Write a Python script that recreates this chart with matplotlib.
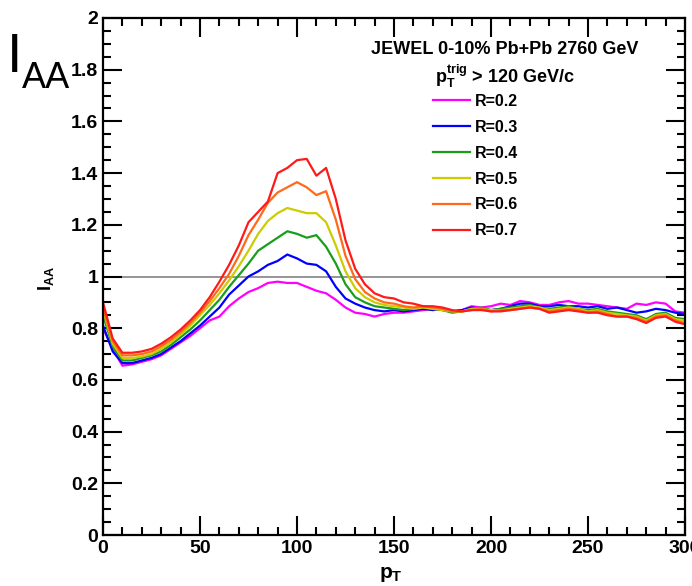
#!/usr/bin/python3

import matplotlib
matplotlib.use("Agg")
import matplotlib.pyplot as plt
from matplotlib.ticker import MultipleLocator

# pT grid, 5 GeV steps
pt = list(range(0, 301, 5))

iaa_r02 = [0.80, 0.72, 0.655, 0.66, 0.67, 0.68, 0.695, 0.72, 0.745, 0.77,
           0.80, 0.83, 0.845, 0.885, 0.915, 0.94, 0.955, 0.975, 0.98, 0.975,
           0.975, 0.96, 0.945, 0.935, 0.91, 0.88, 0.86, 0.855, 0.845, 0.855,
           0.86, 0.86, 0.865, 0.87, 0.875, 0.87, 0.865, 0.87, 0.885, 0.88,
           0.885, 0.895, 0.89, 0.905, 0.90, 0.89, 0.89, 0.90, 0.905, 0.895,
           0.895, 0.89, 0.885, 0.88, 0.875, 0.895, 0.89, 0.90, 0.895, 0.865,
           0.86]

iaa_r03 = [0.81, 0.71, 0.665, 0.665, 0.675, 0.685, 0.70, 0.725, 0.75, 0.78,
           0.81, 0.845, 0.88, 0.93, 0.965, 1.0, 1.02, 1.045, 1.06, 1.085,
           1.07, 1.05, 1.045, 1.02, 0.96, 0.915, 0.895, 0.88, 0.87, 0.865,
           0.87, 0.865, 0.87, 0.875, 0.87, 0.875, 0.865, 0.87, 0.88, 0.875,
           0.87, 0.875, 0.885, 0.895, 0.895, 0.885, 0.885, 0.89, 0.885, 0.885,
           0.88, 0.885, 0.875, 0.88, 0.87, 0.86, 0.865, 0.875, 0.87, 0.86,
           0.855]

iaa_r04 = [0.85, 0.73, 0.675, 0.675, 0.685, 0.695, 0.71, 0.735, 0.765, 0.795,
           0.83, 0.87, 0.91, 0.96, 1.005, 1.05, 1.10, 1.125, 1.15, 1.175,
           1.165, 1.15, 1.16, 1.115, 1.05, 0.97, 0.92, 0.90, 0.885, 0.88,
           0.875, 0.87, 0.875, 0.88, 0.875, 0.87, 0.86, 0.865, 0.875, 0.88,
           0.87, 0.875, 0.88, 0.885, 0.89, 0.88, 0.875, 0.88, 0.885, 0.875,
           0.87, 0.875, 0.865, 0.86, 0.855, 0.85, 0.835, 0.855, 0.86, 0.84,
           0.835]

iaa_r05 = [0.87, 0.74, 0.685, 0.685, 0.69, 0.70, 0.72, 0.745, 0.775, 0.81,
           0.85, 0.89, 0.935, 0.985, 1.04, 1.10, 1.165, 1.215, 1.245, 1.265,
           1.255, 1.245, 1.245, 1.21, 1.12, 1.02, 0.955, 0.92, 0.90, 0.89,
           0.885, 0.88, 0.875, 0.88, 0.875, 0.87, 0.865, 0.865, 0.875, 0.875,
           0.87, 0.87, 0.875, 0.88, 0.885, 0.88, 0.87, 0.875, 0.88, 0.875,
           0.865, 0.87, 0.86, 0.855, 0.85, 0.845, 0.83, 0.85, 0.855, 0.835,
           0.83]

iaa_r06 = [0.88, 0.75, 0.695, 0.695, 0.70, 0.71, 0.73, 0.755, 0.785, 0.82,
           0.86, 0.905, 0.955, 1.01, 1.08, 1.16, 1.22, 1.285, 1.325, 1.345,
           1.365, 1.345, 1.315, 1.33, 1.22, 1.08, 0.99, 0.94, 0.915, 0.90,
           0.895, 0.885, 0.88, 0.885, 0.88, 0.875, 0.865, 0.865, 0.87, 0.875,
           0.865, 0.87, 0.87, 0.875, 0.88, 0.875, 0.865, 0.87, 0.875, 0.87,
           0.86, 0.865, 0.855, 0.845, 0.845, 0.84, 0.825, 0.845, 0.85, 0.83,
           0.82]

iaa_r07 = [0.90, 0.76, 0.705, 0.705, 0.71, 0.72, 0.74, 0.765, 0.795, 0.83,
           0.87, 0.92, 0.98, 1.045, 1.12, 1.21, 1.25, 1.29, 1.40, 1.42,
           1.45, 1.455, 1.39, 1.42, 1.30, 1.14, 1.03, 0.97, 0.935, 0.92,
           0.915, 0.90, 0.895, 0.885, 0.885, 0.88, 0.87, 0.865, 0.87, 0.87,
           0.865, 0.865, 0.87, 0.875, 0.88, 0.875, 0.86, 0.865, 0.87, 0.865,
           0.86, 0.86, 0.85, 0.845, 0.845, 0.835, 0.82, 0.84, 0.845, 0.825,
           0.815]

labels = ["R=0.2", "R=0.3", "R=0.4", "R=0.5", "R=0.6", "R=0.7"]
colors = ["#ff00ff", "#0000ff", "#1a9e1a", "#cccc00", "#ff6a1a", "#ff1a1a"]

#_____________________________________________________________________________
def main():

    series = [iaa_r02, iaa_r03, iaa_r04, iaa_r05, iaa_r06, iaa_r07]

    fig = plt.figure(figsize=(6.92, 5.86), dpi=100)
    ax = fig.add_axes([103./692, 1-535./586, 582./692, 517./586])

    for yv, lab, col in zip(series, labels, colors):
        ax.plot(pt, yv, "-", color=col, lw=1.6, label=lab)

    ax.axhline(1., color="#8c8c8c", lw=1.3, zorder=0)

    ax.set_xlim(0, 300)
    ax.set_ylim(0, 2)

    set_root_axes(ax)

    ax.set_xlabel(r"$\mathbf{p}_{\mathbf{T}}$", fontsize=15)
    ax.xaxis.set_label_coords(0.495, -0.058)
    ax.set_ylabel(r"$\mathbf{I}_{\mathbf{AA}}$", fontsize=13)
    ax.yaxis.set_label_coords(-0.081, 0.497)

    #header above legend
    ax.text(0.691, 0.940, "JEWEL 0-10% Pb+Pb 2760 GeV", transform=ax.transAxes,
            ha="center", va="center", fontsize=13, fontweight="bold")
    ax.text(0.691, 0.888, r"$\mathbf{p}_{\mathbf{T}}^{\mathbf{trig}}$ > 120 GeV/c",
            transform=ax.transAxes, ha="center", va="center", fontsize=13,
            fontweight="bold")

    leg = ax.legend(loc="upper left", bbox_to_anchor=(0.567, 0.853), frameon=False,
                    fontsize=11.5, handlelength=2.3, handletextpad=0.35,
                    labelspacing=0.68, borderpad=0, borderaxespad=0)
    for t in leg.get_texts():
        t.set_fontweight("bold")

    #big label in the corner
    fig.text(0.010, 1-72./586, "I", fontsize=40, va="baseline", ha="left",
             family="Liberation Sans")
    fig.text(0.032, 1-88./586, "AA", fontsize=26, va="baseline", ha="left",
             family="Liberation Sans")

    fig.savefig("out.png", dpi=100)
    plt.close()

#main

#_____________________________________________________________________________
def set_root_axes(ax):

    ax.xaxis.set_major_locator(MultipleLocator(50))
    ax.xaxis.set_minor_locator(MultipleLocator(10))
    ax.yaxis.set_major_locator(MultipleLocator(0.2))
    ax.yaxis.set_minor_locator(MultipleLocator(0.05))

    ax.tick_params(which="both", direction="in", top=True, right=True, width=1.5)
    ax.tick_params(which="major", length=13.5, pad=3.5, labelsize=14)
    ax.tick_params(which="minor", length=5.8)

    ax.set_yticks([0, 0.2, 0.4, 0.6, 0.8, 1.0, 1.2, 1.4, 1.6, 1.8, 2.0])
    ax.set_yticklabels(["0", "0.2", "0.4", "0.6", "0.8", "1", "1.2", "1.4",
                        "1.6", "1.8", "2"])
    for lab in ax.get_xticklabels() + ax.get_yticklabels():
        lab.set_fontweight("bold")
    for s in ax.spines.values():
        s.set_linewidth(1.6)

#set_root_axes

#_____________________________________________________________________________
if __name__ == "__main__":

    plt.rcParams["font.family"] = "Liberation Sans"
    plt.rcParams["mathtext.fontset"] = "custom"
    plt.rcParams["mathtext.rm"] = "Liberation Sans"
    plt.rcParams["mathtext.it"] = "Liberation Sans:italic"
    plt.rcParams["mathtext.bf"] = "Liberation Sans:bold"

    main()
